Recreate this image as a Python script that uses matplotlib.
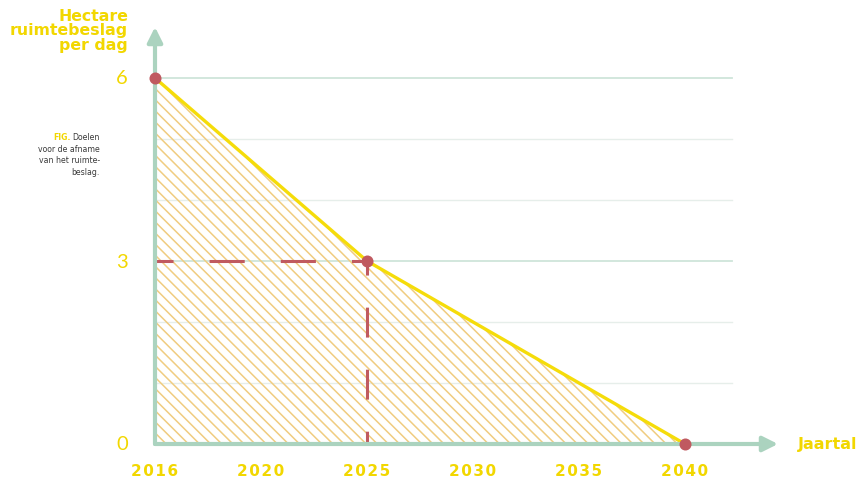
import matplotlib
matplotlib.use("Agg")
import matplotlib.pyplot as plt
import numpy as np

# ---- data ----
year_labels = ["2016", "2020", "2025", "2030", "2035", "2040"]
target_years = ["2016", "2025", "2040"]
target_values = [6, 3, 0]
y_ticks = [0, 3, 6]
minor_grid = [1, 2, 4, 5]
ref_year = "2025"
ref_value = 3

YELLOW = "#f2d700"
LINE_YEL = "#f5dc0a"
GREEN = "#abd3bf"
GRID = "#e6eeea"
GRID_MAJ = "#cfe5da"
RED = "#c05a60"
HATCH = "#f0cc80"

plt.rcParams["hatch.color"] = HATCH
plt.rcParams["hatch.linewidth"] = 1.1

W, H = 859, 481
fig = plt.figure(figsize=(W / 100, H / 100), dpi=100)

# pixel geometry of the plot area
x0_px, x5_px, xend_px = 155, 685, 778
y0_px, y6_px, ytop_px = 445, 79, 28
ux = (x5_px - x0_px) / 5.0
uy = (y0_px - y6_px) / 6.0
xmax = (xend_px - x0_px) / ux
ymax = (y0_px - ytop_px) / uy
ax = fig.add_axes([x0_px / W, (H - y0_px) / H, (xend_px - x0_px) / W, (y0_px - ytop_px) / H])
ax.set_xlim(0, xmax)
ax.set_ylim(0, ymax)
ax.axis("off")

pos = {lab: i for i, lab in enumerate(year_labels)}
xs = np.array([pos[y] for y in target_years], dtype=float)
ys = np.array(target_values, dtype=float)
grid_right = (732 - x0_px) / ux

# grid lines
for v in minor_grid:
    ax.plot([0, grid_right], [v, v], color=GRID, lw=1.0, zorder=1)
for v in y_ticks[1:]:
    ax.plot([0, grid_right], [v, v], color=GRID_MAJ, lw=1.3, zorder=1)

# hatched area
ax.fill_between(xs, ys, 0, facecolor="none", edgecolor=HATCH, hatch="\\\\\\", lw=0, zorder=2)

# reference dashed lines (dash lengths scale with linewidth)
rx = pos[ref_year]
ax.plot([0, rx], [ref_value, ref_value], color=RED, lw=2.2, zorder=3,
        linestyle=(5.6, (11.5, 11.8)), dash_capstyle="butt")
ax.plot([rx, rx], [ref_value, 0], color=RED, lw=2.2, zorder=3,
        linestyle=(5.2, (9.8, 10.5)), dash_capstyle="butt")

# target line
ax.plot(xs, ys, color=LINE_YEL, lw=2.4, zorder=4, solid_capstyle="round")

# axes as arrows
ax.annotate("", xy=(0, ymax), xytext=(0, 0), annotation_clip=False,
            arrowprops=dict(arrowstyle="-|>,head_length=0.9,head_width=0.45", color=GREEN, lw=3,
                            shrinkA=0, shrinkB=0), zorder=5)
ax.annotate("", xy=(xmax, 0), xytext=(0, 0), annotation_clip=False,
            arrowprops=dict(arrowstyle="-|>,head_length=0.9,head_width=0.45", color=GREEN, lw=3,
                            shrinkA=0, shrinkB=0), zorder=5)

# markers
ax.scatter(xs, ys, s=75, color=RED, zorder=6, clip_on=False, linewidths=0)

# y tick labels
for v in y_ticks:
    ax.text(-33 / ux, v, str(v), color=YELLOW, fontsize=14.5, fontfamily="Lato",
            fontweight="normal", ha="center", va="center")

# x tick labels
for i, lab in enumerate(year_labels):
    ax.text(i, -27 / uy, "\u200a".join(lab), color=YELLOW, fontsize=11,
            fontweight="bold", fontfamily="DejaVu Sans", ha="center", va="center")

# axis titles
fig.text(128 / W, 1 - 9 / H, "Hectare\nruimtebeslag\nper dag", color=YELLOW,
         fontsize=11.3, fontweight="bold", ha="right", va="top", linespacing=0.95,
         fontfamily="DejaVu Sans")
fig.text(798 / W, 1 - 445 / H, "Jaartal", color=YELLOW, fontsize=11.5,
         fontweight="bold", ha="left", va="center", fontfamily="DejaVu Sans")

# caption
cap_lines = ["Doelen", "voor de afname", "van het ruimte-", "beslag."]
cap_x = 100 / W
t0 = None
for k, line in enumerate(cap_lines):
    t = fig.text(cap_x, 1 - (138 + 11.5 * k) / H, line, color="#3a3a3a", fontsize=5.6,
                 ha="right", va="center", fontfamily="DejaVu Sans")
    if k == 0:
        t0 = t
fig.canvas.draw()
bb = t0.get_window_extent()
fig.text((bb.x0 - 2) / W, 1 - 138 / H, "FIG.", color=YELLOW, fontsize=5.6,
         fontweight="bold", ha="right", va="center", fontfamily="DejaVu Sans")

fig.savefig("out.png", dpi=100)
